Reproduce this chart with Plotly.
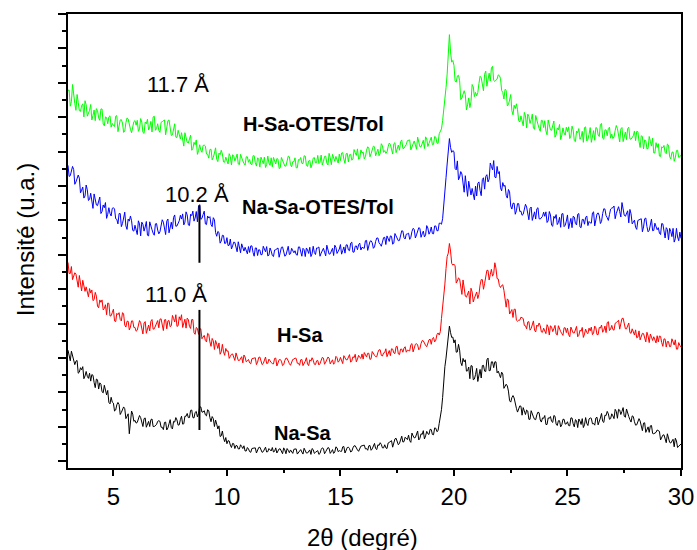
import plotly.graph_objects as go

# 2-theta sampling grids (degrees): main readings and the in-between readings
theta_start, theta_step, n_points = 3.0, 0.1, 271
two_theta = [round(theta_start + i * theta_step, 2) for i in range(n_points)]
two_theta_mid = [round(theta_start + 0.05 + i * theta_step, 2) for i in range(n_points - 1)]

na_sa = [
    3.23, 2.92, 3.05, 2.81, 2.93, 2.59, 2.66, 2.40, 2.61, 2.41,
    2.33, 2.50, 2.14, 2.37, 2.28, 2.02, 2.21, 1.93, 1.71, 1.86,
    1.69, 1.49, 1.71, 1.36, 1.52, 1.53, 1.31, 0.80, 1.46, 1.16,
    1.11, 1.25, 1.27, 1.01, 1.26, 1.09, 1.01, 1.23, 1.01, 1.07,
    1.18, 0.99, 0.92, 1.14, 0.97, 1.21, 0.94, 1.14, 1.20, 1.06,
    1.31, 1.09, 1.31, 1.27, 1.48, 1.27, 1.42, 1.29, 1.58, 1.43,
    1.47, 1.32, 1.47, 1.15, 1.24, 1.20, 0.94, 0.72, 0.88, 0.57,
    0.51, 0.59, 0.40, 0.51, 0.46, 0.36, 0.48, 0.37, 0.30, 0.40,
    0.28, 0.37, 0.39, 0.24, 0.40, 0.31, 0.28, 0.41, 0.28, 0.33,
    0.40, 0.29, 0.24, 0.36, 0.26, 0.39, 0.22, 0.32, 0.33, 0.23,
    0.35, 0.21, 0.32, 0.27, 0.38, 0.24, 0.30, 0.20, 0.34, 0.26,
    0.31, 0.23, 0.39, 0.22, 0.35, 0.38, 0.28, 0.23, 0.42, 0.28,
    0.29, 0.42, 0.24, 0.40, 0.37, 0.29, 0.45, 0.36, 0.29, 0.44,
    0.47, 0.36, 0.32, 0.46, 0.36, 0.52, 0.34, 0.46, 0.49, 0.39,
    0.39, 0.53, 0.58, 0.41, 0.65, 0.55, 0.52, 0.73, 0.57, 0.65,
    0.76, 0.55, 0.74, 0.69, 0.88, 0.67, 0.78, 0.65, 0.87, 0.78,
    0.92, 0.77, 0.96, 0.89, 1.25, 1.85, 2.75, 3.35, 3.93, 3.60,
    3.44, 3.17, 3.40, 2.87, 2.99, 2.95, 2.63, 2.40, 2.77, 2.39,
    2.70, 2.48, 2.42, 2.79, 2.61, 3.00, 2.64, 2.89, 2.89, 2.57,
    2.53, 2.59, 2.12, 2.24, 2.04, 1.72, 1.91, 1.63, 1.43, 1.61,
    1.34, 1.47, 1.49, 1.22, 1.47, 1.29, 1.21, 1.43, 1.20, 1.26,
    1.33, 1.07, 1.25, 1.16, 1.33, 1.08, 1.18, 1.00, 1.22, 1.08,
    1.15, 1.03, 1.26, 1.00, 1.18, 1.23, 1.07, 0.98, 1.27, 1.04,
    1.26, 1.09, 1.05, 1.28, 1.14, 1.39, 1.13, 1.33, 1.38, 1.24,
    1.32, 1.51, 1.25, 1.49, 1.45, 1.31, 1.52, 1.30, 1.14, 1.30,
    1.05, 1.17, 1.17, 0.89, 1.12, 0.94, 0.84, 1.04, 0.80, 0.84,
    0.88, 0.62, 0.76, 0.66, 0.80, 0.55, 0.61, 0.42, 0.59, 0.44,
    0.50,
]
na_sa_mid = [
    3.00, 3.20, 2.89, 2.91, 2.56, 2.72, 2.75, 2.48, 2.47, 2.56,
    2.52, 2.29, 2.39, 2.10, 2.24, 1.99, 2.07, 2.06, 1.67, 1.72,
    1.46, 1.64, 1.65, 1.42, 1.58, 1.24, 1.38, 1.21, 1.37, 1.19,
    1.13, 1.33, 1.14, 1.24, 0.99, 1.16, 1.21, 1.01, 1.04, 1.16,
    1.16, 0.99, 1.13, 0.91, 1.09, 0.98, 1.16, 1.27, 1.05, 1.21,
    1.08, 1.31, 1.39, 1.27, 1.49, 1.26, 1.45, 1.39, 1.58, 1.43,
    1.35, 1.50, 1.27, 1.30, 1.01, 1.08, 1.03, 0.74, 0.68, 0.69,
    0.60, 0.47, 0.52, 0.37, 0.45, 0.36, 0.43, 0.45, 0.30, 0.36,
    0.26, 0.38, 0.39, 0.30, 0.41, 0.26, 0.34, 0.27, 0.37, 0.30,
    0.27, 0.39, 0.29, 0.36, 0.22, 0.33, 0.37, 0.25, 0.28, 0.35,
    0.36, 0.26, 0.34, 0.21, 0.31, 0.24, 0.33, 0.37, 0.23, 0.30,
    0.20, 0.34, 0.37, 0.28, 0.40, 0.23, 0.34, 0.27, 0.39, 0.31,
    0.29, 0.43, 0.33, 0.41, 0.27, 0.39, 0.45, 0.33, 0.37, 0.45,
    0.47, 0.37, 0.45, 0.32, 0.44, 0.37, 0.48, 0.54, 0.39, 0.48,
    0.37, 0.55, 0.60, 0.50, 0.67, 0.48, 0.62, 0.56, 0.70, 0.63,
    0.60, 0.82, 0.68, 0.81, 0.62, 0.80, 0.89, 0.74, 0.80, 0.93,
    0.78, 0.97, 0.86, 1.10, 1.50, 2.35, 3.00, 3.70, 3.74, 3.61,
    3.53, 3.18, 3.23, 2.78, 2.89, 2.62, 2.74, 2.78, 2.37, 2.52,
    2.32, 2.67, 2.78, 2.62, 2.95, 2.63, 2.89, 2.72, 2.89, 2.62,
    2.43, 2.54, 2.18, 2.19, 1.76, 1.85, 1.84, 1.54, 1.51, 1.60,
    1.56, 1.36, 1.46, 1.22, 1.36, 1.22, 1.35, 1.41, 1.14, 1.25,
    1.07, 1.26, 1.30, 1.13, 1.31, 1.04, 1.18, 1.06, 1.22, 1.09,
    1.04, 1.26, 1.09, 1.21, 0.98, 1.17, 1.24, 1.06, 1.10, 1.23,
    1.25, 1.10, 1.26, 1.06, 1.26, 1.16, 1.34, 1.45, 1.22, 1.38,
    1.24, 1.45, 1.51, 1.36, 1.56, 1.28, 1.38, 1.21, 1.32, 1.15,
    1.06, 1.24, 1.03, 1.11, 0.84, 1.00, 1.03, 0.81, 0.82, 0.91,
    0.87, 0.69, 0.77, 0.54, 0.67, 0.53, 0.64, 0.67, 0.40, 0.47,
]

h_sa = [
    5.78, 5.46, 5.28, 5.48, 5.18, 5.40, 4.95, 5.10, 5.07, 4.78,
    4.89, 4.67, 4.91, 4.51, 4.69, 4.69, 4.44, 4.26, 4.59, 4.23,
    4.42, 4.06, 4.26, 4.12, 4.32, 3.96, 4.07, 3.82, 4.08, 3.89,
    3.78, 3.97, 4.03, 3.70, 4.06, 3.86, 3.79, 4.12, 3.85, 3.97,
    3.88, 4.14, 3.80, 4.12, 4.08, 3.91, 4.24, 4.05, 3.92, 4.20,
    4.26, 4.00, 3.87, 4.12, 3.86, 4.12, 3.69, 3.86, 3.84, 3.56,
    3.66, 3.47, 3.69, 3.34, 3.50, 3.51, 3.28, 3.11, 3.40, 3.08,
    3.20, 2.99, 3.11, 3.03, 3.15, 2.93, 3.00, 2.86, 3.03, 2.92,
    2.86, 2.98, 3.00, 2.81, 3.02, 2.90, 2.84, 3.03, 2.85, 2.91,
    2.84, 2.99, 2.77, 2.95, 2.91, 2.81, 3.00, 2.88, 2.79, 2.96,
    3.00, 2.85, 2.79, 2.96, 2.83, 3.01, 2.78, 2.91, 2.94, 2.81,
    2.93, 2.84, 3.02, 2.82, 2.97, 3.00, 2.89, 2.82, 3.05, 2.88,
    3.02, 2.84, 3.00, 2.95, 3.10, 2.92, 3.01, 2.89, 3.08, 2.99,
    2.97, 3.10, 3.14, 2.96, 3.19, 3.08, 3.04, 3.24, 3.08, 3.15,
    3.27, 3.12, 3.07, 3.26, 3.13, 3.34, 3.10, 3.26, 3.29, 3.17,
    3.22, 3.39, 3.18, 3.40, 3.38, 3.28, 3.51, 3.40, 3.33, 3.53,
    3.40, 3.60, 3.52, 3.73, 3.77, 4.45, 5.15, 5.95, 6.33, 5.75,
    5.73, 5.18, 5.33, 5.07, 5.27, 4.80, 4.90, 4.57, 4.92, 4.74,
    4.92, 4.85, 5.28, 5.00, 5.39, 5.55, 5.43, 5.38, 5.77, 5.31,
    5.11, 5.11, 4.97, 4.48, 4.68, 4.36, 4.18, 4.42, 4.07, 4.10,
    4.17, 3.95, 3.85, 4.06, 3.86, 4.08, 3.76, 3.92, 3.94, 3.75,
    3.79, 3.97, 3.67, 3.90, 3.85, 3.70, 3.94, 3.77, 3.66, 3.88,
    3.87, 3.62, 3.81, 3.73, 3.92, 3.66, 3.78, 3.60, 3.84, 3.71,
    3.79, 3.68, 3.93, 3.68, 3.89, 3.96, 3.81, 3.74, 4.06, 3.84,
    3.83, 4.01, 4.08, 3.84, 4.15, 3.99, 3.85, 4.02, 3.72, 3.74,
    3.82, 3.61, 3.53, 3.72, 3.54, 3.75, 3.45, 3.61, 3.62, 3.44,
    3.47, 3.63, 3.34, 3.55, 3.48, 3.33, 3.56, 3.38, 3.26, 3.45,
    3.32,
]
h_sa_mid = [
    5.46, 5.66, 5.36, 5.44, 5.06, 5.22, 5.26, 4.94, 4.94, 5.02,
    4.98, 4.70, 4.80, 4.46, 4.62, 4.40, 4.55, 4.60, 4.22, 4.32,
    4.08, 4.30, 4.32, 4.08, 4.28, 3.90, 4.07, 3.90, 4.08, 3.89,
    3.81, 4.09, 3.86, 4.02, 3.72, 3.96, 4.07, 3.84, 3.92, 4.09,
    4.13, 3.93, 4.11, 3.85, 4.09, 3.94, 4.15, 4.26, 3.94, 4.10,
    3.89, 4.13, 4.16, 3.92, 4.12, 3.74, 3.89, 3.69, 3.85, 3.62,
    3.51, 3.72, 3.47, 3.57, 3.25, 3.41, 3.44, 3.18, 3.18, 3.28,
    3.21, 3.05, 3.12, 2.93, 3.04, 2.93, 3.04, 3.09, 2.89, 2.96,
    2.83, 2.98, 3.01, 2.88, 3.03, 2.81, 2.93, 2.84, 2.97, 2.87,
    2.83, 3.00, 2.87, 2.96, 2.78, 2.93, 2.99, 2.84, 2.88, 2.97,
    2.99, 2.85, 2.95, 2.78, 2.91, 2.83, 2.95, 3.01, 2.82, 2.92,
    2.80, 2.96, 3.00, 2.88, 3.03, 2.83, 2.95, 2.87, 3.01, 2.92,
    2.89, 3.07, 2.95, 3.05, 2.88, 3.04, 3.11, 2.97, 3.02, 3.12,
    3.16, 3.03, 3.14, 2.98, 3.12, 3.04, 3.17, 3.24, 3.06, 3.16,
    3.04, 3.22, 3.27, 3.15, 3.33, 3.12, 3.26, 3.17, 3.33, 3.23,
    3.21, 3.42, 3.29, 3.42, 3.24, 3.42, 3.50, 3.37, 3.43, 3.55,
    3.57, 3.47, 3.68, 3.67, 4.15, 4.75, 5.60, 6.05, 6.11, 5.70,
    5.68, 5.24, 5.30, 4.85, 5.03, 4.77, 4.95, 5.03, 4.63, 4.87,
    4.73, 5.12, 5.28, 5.17, 5.55, 5.27, 5.58, 5.46, 5.61, 5.30,
    5.05, 5.13, 4.72, 4.72, 4.28, 4.41, 4.42, 4.10, 4.10, 4.19,
    4.15, 3.94, 4.05, 3.81, 3.96, 3.81, 3.96, 4.02, 3.76, 3.87,
    3.71, 3.90, 3.94, 3.77, 3.95, 3.67, 3.83, 3.71, 3.88, 3.74,
    3.68, 3.90, 3.73, 3.86, 3.62, 3.81, 3.89, 3.70, 3.74, 3.87,
    3.90, 3.73, 3.88, 3.68, 3.87, 3.75, 3.93, 4.03, 3.80, 3.95,
    3.81, 4.03, 4.10, 3.96, 4.16, 3.85, 3.93, 3.74, 3.85, 3.67,
    3.59, 3.79, 3.61, 3.71, 3.47, 3.64, 3.70, 3.51, 3.53, 3.65,
    3.64, 3.45, 3.56, 3.32, 3.48, 3.34, 3.47, 3.53, 3.26, 3.37,
]

na_sa_otes = [
    8.60, 8.30, 8.57, 8.05, 8.25, 8.23, 7.88, 7.65, 8.03, 7.58,
    7.79, 7.35, 7.60, 7.43, 7.68, 7.26, 7.37, 7.06, 7.37, 7.13,
    7.37, 7.05, 6.90, 7.20, 6.91, 7.24, 6.74, 6.98, 6.99, 6.69,
    6.72, 6.99, 6.55, 6.89, 6.81, 6.57, 6.96, 6.73, 6.57, 6.91,
    6.61, 6.87, 6.95, 6.59, 7.04, 6.82, 6.75, 7.16, 6.84, 6.99,
    7.04, 6.87, 7.25, 6.87, 7.18, 7.27, 7.07, 6.96, 7.46, 7.06,
    7.27, 6.88, 7.07, 6.88, 7.08, 6.65, 6.68, 6.34, 6.57, 6.33,
    6.50, 6.28, 6.17, 6.37, 6.16, 6.38, 6.06, 6.21, 6.22, 6.03,
    6.07, 6.26, 5.96, 6.20, 6.15, 6.00, 6.25, 6.09, 5.97, 6.20,
    5.98, 6.14, 6.19, 5.93, 6.22, 6.06, 5.99, 6.25, 6.03, 6.11,
    6.12, 5.99, 6.23, 5.96, 6.15, 6.20, 6.04, 5.95, 6.25, 6.01,
    6.20, 5.96, 6.15, 6.08, 6.28, 6.02, 6.15, 5.98, 6.22, 6.10,
    6.30, 6.12, 6.05, 6.29, 6.12, 6.37, 6.08, 6.26, 6.30, 6.14,
    6.20, 6.41, 6.13, 6.39, 6.35, 6.23, 6.49, 6.35, 6.25, 6.50,
    6.30, 6.48, 6.55, 6.31, 6.62, 6.48, 6.42, 6.70, 6.50, 6.60,
    6.63, 6.51, 6.77, 6.49, 6.71, 6.77, 6.61, 6.52, 6.85, 6.60,
    6.81, 6.61, 6.84, 6.70, 6.92, 7.05, 7.96, 8.64, 9.38, 8.98,
    9.00, 8.47, 8.18, 8.42, 7.98, 8.30, 7.70, 7.94, 7.93, 7.60,
    7.71, 8.12, 7.72, 8.24, 8.28, 8.12, 8.67, 8.47, 8.26, 8.57,
    8.42, 7.86, 7.99, 7.73, 7.90, 7.42, 7.50, 7.18, 7.49, 7.26,
    7.15, 7.35, 7.39, 7.02, 7.39, 7.15, 7.04, 7.37, 7.04, 7.12,
    7.12, 6.94, 7.26, 6.86, 7.12, 7.17, 6.94, 6.80, 7.20, 6.86,
    7.16, 6.89, 6.79, 7.10, 6.87, 7.20, 6.79, 7.03, 7.09, 6.85,
    6.93, 7.22, 6.84, 7.19, 7.14, 6.97, 7.34, 7.14, 7.00, 7.33,
    7.37, 7.05, 7.35, 7.26, 7.52, 7.15, 7.24, 6.93, 7.19, 6.95,
    6.80, 7.00, 7.04, 6.67, 7.05, 6.82, 6.71, 7.04, 6.71, 6.80,
    6.79, 6.59, 6.90, 6.49, 6.74, 6.77, 6.53, 6.37, 6.77, 6.41,
    6.48,
]
na_sa_otes_mid = [
    8.28, 8.50, 8.48, 8.12, 8.32, 7.80, 7.97, 7.71, 7.89, 7.61,
    7.48, 7.77, 7.45, 7.60, 7.20, 7.45, 7.52, 7.18, 7.20, 7.35,
    7.33, 7.03, 7.20, 6.82, 7.07, 6.84, 7.04, 7.13, 6.71, 6.86,
    6.59, 6.90, 6.95, 6.69, 6.97, 6.55, 6.79, 6.63, 6.90, 6.72,
    6.67, 7.02, 6.77, 6.98, 6.64, 6.95, 7.09, 6.83, 6.93, 7.15,
    7.19, 6.95, 7.16, 6.85, 7.14, 6.98, 7.26, 7.42, 7.03, 7.17,
    6.90, 7.13, 7.11, 6.82, 7.02, 6.54, 6.65, 6.40, 6.56, 6.34,
    6.27, 6.46, 6.26, 6.36, 6.09, 6.26, 6.32, 6.11, 6.13, 6.24,
    6.26, 6.07, 6.20, 5.98, 6.14, 6.01, 6.17, 6.24, 5.99, 6.11,
    5.95, 6.15, 6.20, 6.04, 6.23, 5.96, 6.12, 6.01, 6.19, 6.06,
    6.01, 6.23, 6.06, 6.19, 5.95, 6.14, 6.22, 6.03, 6.07, 6.20,
    6.23, 6.05, 6.19, 5.97, 6.15, 6.03, 6.19, 6.28, 6.04, 6.17,
    6.02, 6.23, 6.29, 6.14, 6.34, 6.08, 6.25, 6.15, 6.34, 6.22,
    6.19, 6.42, 6.27, 6.41, 6.19, 6.39, 6.49, 6.31, 6.37, 6.51,
    6.55, 6.39, 6.54, 6.34, 6.53, 6.41, 6.59, 6.69, 6.46, 6.61,
    6.45, 6.68, 6.74, 6.58, 6.79, 6.51, 6.69, 6.58, 6.78, 6.67,
    6.62, 6.84, 6.70, 6.92, 6.89, 7.56, 8.24, 9.06, 9.12, 9.03,
    8.51, 8.73, 8.26, 8.35, 7.82, 8.06, 8.14, 7.74, 7.78, 8.00,
    8.08, 7.87, 8.19, 7.91, 8.33, 8.20, 8.57, 8.74, 8.24, 8.36,
    7.95, 8.10, 8.02, 7.65, 7.83, 7.33, 7.50, 7.28, 7.49, 7.27,
    7.18, 7.47, 7.21, 7.35, 7.00, 7.25, 7.34, 7.05, 7.10, 7.24,
    7.25, 6.99, 7.16, 6.83, 7.06, 6.88, 7.09, 7.19, 6.82, 6.98,
    6.76, 7.06, 7.12, 6.91, 7.18, 6.81, 7.03, 6.89, 7.13, 6.97,
    6.92, 7.25, 7.03, 7.22, 6.91, 7.20, 7.33, 7.08, 7.17, 7.36,
    7.42, 7.20, 7.40, 7.10, 7.33, 7.12, 7.28, 7.32, 6.90, 7.01,
    6.74, 7.01, 7.05, 6.81, 7.07, 6.67, 6.87, 6.70, 6.92, 6.73,
    6.63, 6.91, 6.65, 6.79, 6.44, 6.68, 6.77, 6.47, 6.52, 6.66,
]

h_sa_otes = [
    10.78, 10.32, 10.95, 10.40, 10.66, 10.19, 10.34, 10.01, 10.36, 10.11,
    10.37, 10.05, 9.90, 10.20, 9.91, 10.24, 9.75, 9.99, 10.01, 9.71,
    9.76, 10.03, 9.58, 9.92, 9.83, 9.60, 9.98, 9.73, 9.55, 9.87,
    9.77, 9.59, 9.96, 9.56, 9.86, 9.94, 9.71, 9.57, 10.03, 9.67,
    9.62, 9.85, 9.90, 9.49, 9.90, 9.63, 9.49, 9.81, 9.41, 9.47,
    9.55, 9.16, 9.40, 9.25, 9.48, 9.09, 9.20, 8.92, 9.20, 8.98,
    9.19, 8.93, 8.81, 9.07, 8.83, 9.11, 8.71, 8.91, 8.93, 8.69,
    8.74, 8.94, 8.61, 8.87, 8.82, 8.64, 8.92, 8.73, 8.61, 8.85,
    8.77, 8.62, 8.88, 8.58, 8.78, 8.84, 8.65, 8.54, 8.87, 8.60,
    8.56, 8.74, 8.80, 8.51, 8.83, 8.65, 8.58, 8.87, 8.62, 8.71,
    8.82, 8.53, 8.75, 8.66, 8.88, 8.60, 8.73, 8.53, 8.81, 8.67,
    8.89, 8.69, 8.61, 8.86, 8.67, 8.95, 8.62, 8.82, 8.86, 8.67,
    8.74, 8.97, 8.66, 8.95, 8.91, 8.75, 9.06, 8.89, 8.78, 9.05,
    8.99, 8.85, 9.14, 8.85, 9.07, 9.14, 8.98, 8.88, 9.23, 8.98,
    8.95, 9.14, 9.21, 8.93, 9.26, 9.10, 9.04, 9.34, 9.10, 9.21,
    9.33, 9.05, 9.27, 9.19, 9.42, 9.14, 9.28, 9.09, 9.37, 9.24,
    9.42, 9.21, 9.42, 9.24, 9.58, 9.90, 10.60, 11.25, 12.40, 11.60,
    11.51, 11.02, 11.22, 10.51, 10.67, 10.66, 10.36, 10.28, 10.95, 10.60,
    10.62, 10.98, 11.15, 10.77, 11.34, 11.12, 11.05, 11.48, 11.04, 11.11,
    11.21, 10.78, 10.53, 10.78, 10.37, 10.66, 10.07, 10.25, 10.22, 9.86,
    9.88, 10.14, 9.69, 10.02, 9.93, 9.68, 10.05, 9.79, 9.59, 9.90,
    9.90, 9.49, 9.76, 9.62, 9.89, 9.49, 9.63, 9.35, 9.69, 9.48,
    9.58, 9.38, 9.74, 9.32, 9.60, 9.67, 9.42, 9.27, 9.72, 9.36,
    9.70, 9.43, 9.33, 9.68, 9.44, 9.82, 9.36, 9.63, 9.67, 9.39,
    9.38, 9.61, 9.67, 9.28, 9.70, 9.45, 9.35, 9.71, 9.36, 9.46,
    9.32, 9.58, 9.12, 9.44, 9.34, 9.08, 9.44, 9.16, 8.96, 9.26,
    9.23, 8.86, 9.11, 8.98, 9.22, 8.85, 8.98, 8.72, 9.03, 8.83,
    8.90,
]
h_sa_otes_mid = [
    10.79, 10.45, 10.61, 10.20, 10.43, 10.17, 10.39, 10.48, 10.03, 10.20,
    9.92, 10.21, 10.25, 9.98, 10.24, 9.80, 10.01, 9.81, 10.04, 9.82,
    9.73, 10.05, 9.76, 9.93, 9.56, 9.84, 9.95, 9.65, 9.72, 9.90,
    9.91, 9.66, 9.86, 9.53, 9.81, 9.63, 9.88, 10.01, 9.62, 9.81,
    9.56, 9.87, 9.92, 9.65, 9.92, 9.47, 9.65, 9.42, 9.62, 9.37,
    9.27, 9.55, 9.27, 9.41, 9.04, 9.27, 9.34, 9.03, 9.05, 9.18,
    9.16, 8.92, 9.06, 8.76, 8.96, 8.78, 8.96, 9.04, 8.70, 8.84,
    8.64, 8.86, 8.91, 8.73, 8.93, 8.62, 8.79, 8.66, 8.85, 8.69,
    8.64, 8.88, 8.68, 8.82, 8.55, 8.75, 8.84, 8.62, 8.67, 8.82,
    8.83, 8.64, 8.78, 8.53, 8.73, 8.58, 8.76, 8.85, 8.56, 8.71,
    8.53, 8.77, 8.83, 8.65, 8.87, 8.57, 8.75, 8.63, 8.83, 8.68,
    8.65, 8.90, 8.71, 8.87, 8.61, 8.82, 8.92, 8.72, 8.77, 8.93,
    8.96, 8.78, 8.94, 8.70, 8.92, 8.78, 8.97, 9.08, 8.80, 8.96,
    8.79, 9.04, 9.11, 8.94, 9.16, 8.88, 9.07, 8.95, 9.17, 9.03,
    8.99, 9.25, 9.06, 9.23, 8.97, 9.19, 9.29, 9.09, 9.16, 9.32,
    9.34, 9.16, 9.31, 9.07, 9.28, 9.14, 9.33, 9.43, 9.15, 9.31,
    9.20, 9.44, 9.25, 9.52, 9.66, 10.31, 10.86, 11.86, 11.90, 11.65,
    11.05, 11.20, 11.06, 10.56, 10.77, 10.21, 10.56, 10.45, 10.88, 10.72,
    10.72, 11.19, 10.96, 11.25, 10.90, 11.28, 11.43, 11.07, 11.09, 11.23,
    11.13, 10.72, 10.81, 10.33, 10.50, 10.19, 10.35, 10.39, 9.90, 10.04,
    9.75, 10.04, 10.09, 9.82, 10.09, 9.65, 9.87, 9.68, 9.91, 9.70,
    9.60, 9.92, 9.63, 9.80, 9.42, 9.69, 9.79, 9.48, 9.54, 9.71,
    9.72, 9.45, 9.63, 9.29, 9.55, 9.36, 9.59, 9.70, 9.31, 9.50,
    9.27, 9.61, 9.70, 9.48, 9.79, 9.39, 9.63, 9.46, 9.71, 9.51,
    9.43, 9.76, 9.48, 9.66, 9.29, 9.57, 9.67, 9.37, 9.43, 9.60,
    9.59, 9.30, 9.46, 9.08, 9.32, 9.09, 9.30, 9.39, 8.96, 9.12,
    8.87, 9.14, 9.18, 8.94, 9.19, 8.79, 8.99, 8.82, 9.04, 8.85,
]

series_names = ["Na-Sa", "H-Sa", "Na-Sa-OTES/Tol", "H-Sa-OTES/Tol"]
series_values = [na_sa, h_sa, na_sa_otes, h_sa_otes]
series_mid_values = [na_sa_mid, h_sa_mid, na_sa_otes_mid, h_sa_otes_mid]
series_colors = ["#000000", "#FF0000", "#0000FF", "#00FF00"]

# sample labels (data units)
label_texts = ["H-Sa-OTES/Tol", "Na-Sa-OTES/Tol", "H-Sa", "Na-Sa"]
label_x = [13.8, 14.0, 13.24, 13.33]
label_y = [9.8, 7.39, 3.67, 0.82]

# d-spacing labels
dspace_texts = ["11.7 Å", "10.2 Å", "11.0 Å"]
dspace_x = [7.86, 8.66, 7.74]
dspace_y = [10.94, 7.74, 4.84]

# peak marker lines: x, (y0, y1)
marker_x = 8.79
marker_segments = [(5.77, 7.44), (0.91, 4.40)]


def merge(x_main, y_main, x_mid, y_mid):
    pts = sorted(list(zip(x_main, y_main)) + list(zip(x_mid, y_mid)))
    return [p[0] for p in pts], [p[1] for p in pts]


fig = go.Figure()
for name, vals, mids, col in zip(series_names, series_values, series_mid_values, series_colors):
    xs, ys = merge(two_theta, vals, two_theta_mid, mids)
    fig.add_trace(go.Scatter(x=xs, y=ys, mode="lines", name=name,
                             line=dict(color=col, width=1), showlegend=False))

for t, x, y in zip(label_texts, label_x, label_y):
    fig.add_annotation(x=x, y=y, text="<b>%s</b>" % t, showarrow=False,
                       font=dict(family="Liberation Sans", size=20, color="black"))
for t, x, y in zip(dspace_texts, dspace_x, dspace_y):
    fig.add_annotation(x=x, y=y, text=t, showarrow=False,
                       font=dict(family="Liberation Sans", size=22, color="black"))
for y0, y1 in marker_segments:
    fig.add_shape(type="line", x0=marker_x, x1=marker_x, y0=y0, y1=y1,
                  xref="x", yref="y", line=dict(color="black", width=2))

# axis titles
fig.add_annotation(x=0.48, y=-0.154, xref="paper", yref="paper", text="2θ (degré)",
                   showarrow=False, yanchor="middle",
                   font=dict(family="Liberation Sans", size=24, color="black"))
fig.add_annotation(x=-0.070, y=0.502, xref="paper", yref="paper", text="Intensité (u.a.)",
                   showarrow=False, textangle=-90, xanchor="center", yanchor="middle",
                   font=dict(family="Liberation Sans", size=24, color="black"))

fig.update_layout(
    width=697, height=550,
    margin=dict(l=68, r=16, t=14, b=82, autoexpand=False),
    paper_bgcolor="white", plot_bgcolor="white",
    font=dict(family="Liberation Sans", color="black"),
)
fig.update_xaxes(
    range=[3, 30], dtick=5, tick0=0, ticks="outside", ticklen=6, tickwidth=1.5,
    tickcolor="black", minor=dict(dtick=2.5, tick0=0, ticks="outside", ticklen=3,
                                  tickwidth=1.5, tickcolor="black"),
    showline=True, linewidth=2, linecolor="black", mirror=True,
    showgrid=False, zeroline=False, automargin=False,
    tickfont=dict(size=24, family="Liberation Sans"),
)
fig.update_yaxes(
    range=[-0.195, 13.0], dtick=1, tick0=0, ticks="outside", ticklen=8, tickwidth=1.5,
    tickcolor="black", minor=dict(dtick=0.5, tick0=0, ticks="outside", ticklen=4,
                                  tickwidth=1.5, tickcolor="black"),
    showticklabels=False, automargin=False,
    showline=True, linewidth=2, linecolor="black", mirror=True,
    showgrid=False, zeroline=False,
)

fig.write_html("out.html")
